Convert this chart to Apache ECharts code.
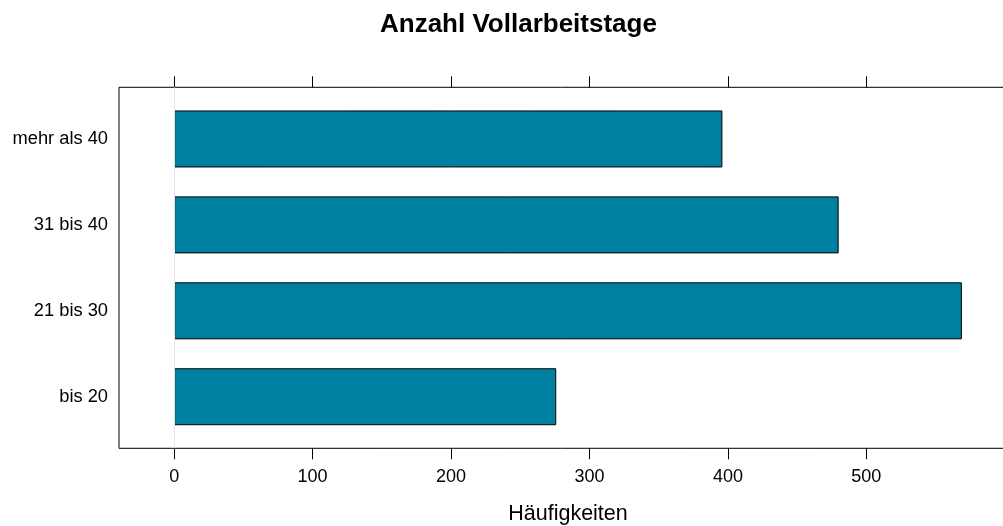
<!DOCTYPE html>
<html><head><meta charset="utf-8">
<script src="https://cdn.jsdelivr.net/npm/echarts@6/dist/echarts.min.js"></script>
<style>html,body{margin:0;padding:0;background:#fff}#c{width:1003px;height:526px}</style>
</head><body><div id="c"></div>
<script>
const categories = ['bis 20', '21 bis 30', '31 bis 40', 'mehr als 40'];
const counts = [276, 569, 480, 396];
const tickValues = [0, 100, 200, 300, 400, 500];
const xMin = -39.83, xMax = 608.83;
const FONT = '"Liberation Sans", Arial, Helvetica, sans-serif';

const chart = echarts.init(document.getElementById('c'), null, {renderer: 'canvas'});
const xBase = {
  type: 'value', min: xMin, max: xMax,
  splitLine: {show: false}
};
chart.setOption({
  animation: false,
  backgroundColor: '#fff',
  title: {
    text: 'Anzahl Vollarbeitstage', left: 380, top: 12, padding: 0,
    textStyle: {fontFamily: FONT, fontSize: 26, fontWeight: 'bold', color: '#000'}
  },
  grid: [
    {left: 119, width: 898, top: 96, bottom: 86.3, show: false, containLabel: false, outerBoundsMode: 'none'},
    {left: 119, width: 898, top: 87.3, bottom: 77.7, show: true, borderColor: '#000', borderWidth: 1, backgroundColor: 'transparent', containLabel: false, outerBoundsMode: 'none'}
  ],
  xAxis: [
    Object.assign({}, xBase, {gridIndex: 0, show: false}),
    Object.assign({}, xBase, {
      gridIndex: 1, position: 'bottom',
      axisLine: {show: false},
      axisTick: {show: true, inside: false, length: 11, lineStyle: {color: '#000', width: 1}, customValues: tickValues},
      axisLabel: {show: true, margin: 20, fontFamily: FONT, fontSize: 18, color: '#000', customValues: tickValues},
      name: 'Häufigkeiten', nameLocation: 'middle', nameGap: 55,
      nameTextStyle: {fontFamily: FONT, fontSize: 21.5, color: '#000'}
    }),
    Object.assign({}, xBase, {
      gridIndex: 1, position: 'top',
      axisLine: {show: false},
      axisTick: {show: true, inside: false, length: 11, lineStyle: {color: '#000', width: 1}, customValues: tickValues},
      axisLabel: {show: false}
    })
  ],
  yAxis: [
    {
      type: 'category', gridIndex: 0, data: categories,
      axisLine: {show: false}, axisTick: {show: false}, splitLine: {show: false},
      axisLabel: {margin: 11, fontFamily: FONT, fontSize: 18.3, color: '#000', padding: [4, 0, 0, 0]}
    },
    {type: 'value', gridIndex: 1, min: 0, max: 1, show: false}
  ],
  series: [
    {
      type: 'scatter', xAxisIndex: 1, yAxisIndex: 1, data: [[0, -1]], symbolSize: 0, silent: true,
      markLine: {
        silent: true, symbol: 'none', label: {show: false},
        lineStyle: {color: '#e6e6e6', width: 1, type: 'solid'},
        data: [{xAxis: 0}]
      }
    },
    {
      type: 'bar', xAxisIndex: 0, yAxisIndex: 0, data: counts, barWidth: 57,
      itemStyle: {color: '#0080a0', borderColor: '#000', borderWidth: 1}
    }
  ]
});
</script></body></html>
